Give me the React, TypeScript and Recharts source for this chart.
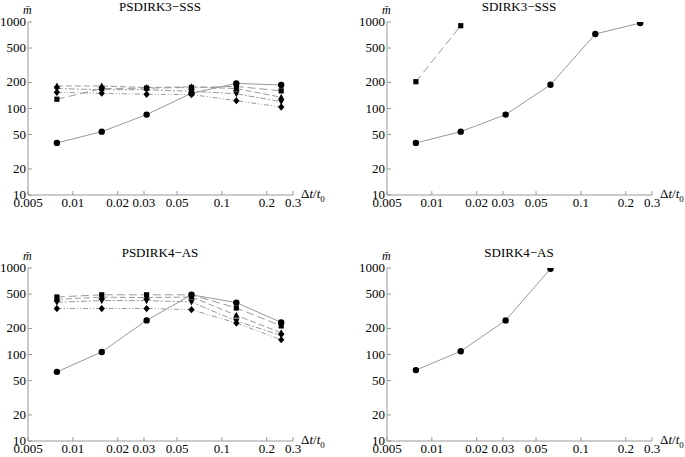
import React from 'react';
import { LineChart, Line, XAxis, YAxis } from 'recharts';

// step sizes dt/t0
const steps = [0.0078125, 0.015625, 0.03125, 0.0625, 0.125, 0.25];
const xTicks = [0.005, 0.01, 0.02, 0.03, 0.05, 0.1, 0.2, 0.3];
const yTicks = [10, 20, 50, 100, 200, 500, 1000];

// PSDIRK3-SSS
const psdirk3Circle = [40, 54, 85, 150, 195, 187];
const psdirk3Square = [128, 170, 172, 175, 180, 160];
const psdirk3TriUp = [182, 182, 175, 178, 170, 135];
const psdirk3TriDown = [170, 165, 165, 158, 148, 120];
const psdirk3Diamond = [154, 150, 146, 145, 123, 104];

// SDIRK3-SSS
const sdirk3Circle = [40, 54, 85, 188, 726, 975];
const sdirk3Square = [204, 906, null, null, null, null];

// PSDIRK4-AS
const psdirk4Circle = [63, 107, 248, 490, 398, 235];
const psdirk4Square = [462, 490, 490, 490, 345, 214];
const psdirk4TriUp = [435, 460, 455, 462, 284, 178];
const psdirk4TriDown = [402, 420, 420, 405, 244, 166];
const psdirk4Diamond = [340, 340, 340, 330, 231, 148];

// SDIRK4-AS
const sdirk4Circle = [66, 109, 248, 980, null, null];

type Shape = 'circle' | 'square' | 'triUp' | 'triDown' | 'diamond';

interface Series {
  key: string;
  values: (number | null)[];
  shape: Shape;
}

const dashes: Record<Shape, string | undefined> = {
  circle: undefined,
  square: '8 4',
  triUp: '6 3',
  triDown: '6 2 2 2',
  diamond: '5 2 1 2 1 2',
};

const makeDot = (shape: Shape) => (props: any) => {
  const { cx, cy, index } = props;
  if (cx == null || cy == null || props.value == null) return <g key={index} />;
  let el: React.ReactNode;
  if (shape === 'circle') el = <circle cx={cx} cy={cy} r={3.2} fill="#000" />;
  else if (shape === 'square')
    el = <rect x={cx - 2.6} y={cy - 2.6} width={5.2} height={5.2} fill="#000" />;
  else if (shape === 'diamond')
    el = <polygon points={`${cx},${cy - 3.6} ${cx + 3.2},${cy} ${cx},${cy + 3.6} ${cx - 3.2},${cy}`} fill="#000" />;
  else if (shape === 'triUp')
    el = <polygon points={`${cx},${cy - 3.6} ${cx + 3.2},${cy + 2.4} ${cx - 3.2},${cy + 2.4}`} fill="#000" />;
  else
    el = <polygon points={`${cx},${cy + 3.6} ${cx + 3.2},${cy - 2.4} ${cx - 3.2},${cy - 2.4}`} fill="#000" />;
  return <g key={index}>{el}</g>;
};

const XTick = (props: any) => {
  const { x, y, payload } = props;
  return (
    <g>
      <line x1={x} y1={y} x2={x} y2={y - 4} stroke="#999" />
      <text x={x} y={y + 12} textAnchor="middle" fontSize={13} fill="#000">
        {payload.value}
      </text>
    </g>
  );
};

const YTick = (props: any) => {
  const { x, y, payload } = props;
  return (
    <g>
      <line x1={x} y1={y} x2={x + 4} y2={y} stroke="#999" />
      <text x={x - 2} y={y + 4} textAnchor="end" fontSize={13} fill="#000">
        {payload.value}
      </text>
    </g>
  );
};

const font = '"Liberation Serif", "DejaVu Serif", serif';

interface PanelProps {
  title: string;
  left: number;
  top: number;
  series: Series[];
}

const Panel: React.FC<PanelProps> = ({ title, left, top, series }) => {
  const rows = steps.map((x, i) => {
    const row: Record<string, number | null> = { x };
    series.forEach((s) => {
      row[s.key] = s.values[i];
    });
    return row;
  });
  return (
    <div style={{ position: 'absolute', left, top, width: 342, height: 230 }}>
      <div
        style={{
          position: 'absolute',
          left: 0,
          width: 320,
          top: 0,
          lineHeight: '14px',
          textAlign: 'center',
          fontSize: 13,
          fontFamily: font,
        }}
      >
        {title}
      </div>
      <div
        style={{
          position: 'absolute',
          left: 23,
          top: 3,
          lineHeight: '14px',
          fontSize: 12,
          fontStyle: 'italic',
          fontFamily: font,
        }}
      >
        m&#772;
      </div>
      <div
        style={{
          position: 'absolute',
          left: 301,
          top: 187,
          lineHeight: '14px',
          fontSize: 13,
          fontFamily: font,
          whiteSpace: 'nowrap',
        }}
      >
        &Delta;<i>t</i>/<i>t</i>
        <sub style={{ fontSize: 9 }}>0</sub>
      </div>
      <LineChart width={342} height={230} data={rows} margin={{ top: 22, right: 49, bottom: 15, left: 0 }}>
        <XAxis
          dataKey="x"
          type="number"
          scale="log"
          domain={[0.005, 0.3]}
          ticks={xTicks}
          allowDataOverflow
          tickLine={false}
          tickSize={0}
          tickMargin={0}
          tick={<XTick />}
          stroke="#999"
          height={20}
          interval={0}
        />
        <YAxis
          type="number"
          scale="log"
          domain={[10, 1000]}
          ticks={yTicks}
          allowDataOverflow
          tickLine={false}
          tickSize={0}
          tickMargin={0}
          tick={<YTick />}
          stroke="#999"
          width={28}
          interval={0}
        />
        {series.map((s) => (
          <Line
            key={s.key}
            type="linear"
            dataKey={s.key}
            stroke="#999"
            strokeWidth={1}
            strokeDasharray={dashes[s.shape]}
            dot={makeDot(s.shape)}
            activeDot={false}
            connectNulls={false}
            isAnimationActive={false}
          />
        ))}
      </LineChart>
    </div>
  );
};

const App: React.FC = () => (
  <div style={{ position: 'absolute', left: 0, top: 0, width: 685, height: 457, background: '#fff', fontFamily: font }}>
    <Panel
      title="PSDIRK3−SSS"
      left={0}
      top={0}
      series={[
        { key: 'c', values: psdirk3Circle, shape: 'circle' },
        { key: 's', values: psdirk3Square, shape: 'square' },
        { key: 'u', values: psdirk3TriUp, shape: 'triUp' },
        { key: 'd', values: psdirk3TriDown, shape: 'triDown' },
        { key: 'm', values: psdirk3Diamond, shape: 'diamond' },
      ]}
    />
    <Panel
      title="SDIRK3−SSS"
      left={359}
      top={0}
      series={[
        { key: 'c', values: sdirk3Circle, shape: 'circle' },
        { key: 's', values: sdirk3Square, shape: 'square' },
      ]}
    />
    <Panel
      title="PSDIRK4−AS"
      left={0}
      top={246}
      series={[
        { key: 'c', values: psdirk4Circle, shape: 'circle' },
        { key: 's', values: psdirk4Square, shape: 'square' },
        { key: 'u', values: psdirk4TriUp, shape: 'triUp' },
        { key: 'd', values: psdirk4TriDown, shape: 'triDown' },
        { key: 'm', values: psdirk4Diamond, shape: 'diamond' },
      ]}
    />
    <Panel
      title="SDIRK4−AS"
      left={359}
      top={246}
      series={[{ key: 'c', values: sdirk4Circle, shape: 'circle' }]}
    />
  </div>
);

export default App;
